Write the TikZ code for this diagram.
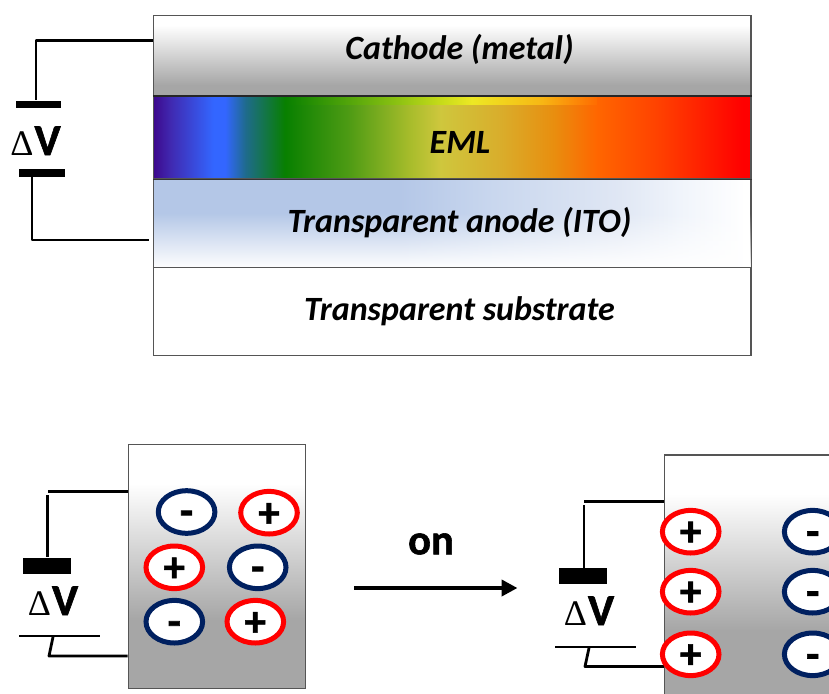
\documentclass[tikz,border=0pt]{standalone}
\usepackage{fontspec}
\setmainfont{Carlito}
\newfontfamily\deltafont{Liberation Serif}
\newfontfamily\heavyfont[FakeBold=1.4]{Carlito Bold}
\usetikzlibrary{fadings,arrows.meta,shapes.geometric}
\definecolor{metalgray}{HTML}{A6A6A6}
\definecolor{edgegray}{HTML}{555555}
\definecolor{holered}{HTML}{FF0000}
\definecolor{elecblue}{HTML}{002060}
\pgfdeclareverticalshading{cathshade}{100bp}{color(0bp)=(metalgray);color(32bp)=(metalgray);color(69bp)=(white);color(100bp)=(white)}
\pgfdeclareverticalshading{devshade}{100bp}{color(0bp)=(metalgray);color(39bp)=(metalgray);color(67bp)=(white);color(100bp)=(white)}
\pgfdeclarehorizontalshading{emlshade}{100bp}{
rgb(0bp)=(0.24,0.03,0.55);rgb(25bp)=(0.24,0.03,0.55);rgb(26.4bp)=(0.25,0.16,0.69);
rgb(30bp)=(0.2,0.4,1);rgb(31bp)=(0.2,0.4,1);rgb(32.7bp)=(0.12,0.42,0.55);
rgb(36bp)=(0.03,0.5,0);rgb(41.4bp)=(0.31,0.61,0.08);rgb(46.5bp)=(0.66,0.74,0.17);
rgb(49bp)=(0.81,0.78,0.24);rgb(54bp)=(0.85,0.68,0.17);rgb(58.4bp)=(0.91,0.56,0.06);
rgb(62.1bp)=(1,0.4,0);rgb(67.4bp)=(1,0.25,0);rgb(74.3bp)=(1,0,0);rgb(100bp)=(1,0,0)}
\pgfdeclarehorizontalshading{anodeshade}{100bp}{
rgb(0bp)=(0.706,0.78,0.906);rgb(45.6bp)=(0.706,0.78,0.906);rgb(53bp)=(0.784,0.84,0.933);
rgb(64bp)=(0.878,0.906,0.957);rgb(69bp)=(0.94,0.957,0.984);rgb(74.5bp)=(1,1,1);rgb(100bp)=(1,1,1)}
\pgfdeclarehorizontalshading{stripshade}{100bp}{
rgb(0bp)=(0.03,0.5,0);rgb(25bp)=(0.03,0.5,0);rgb(43bp)=(0.55,0.76,0.07);rgb(50bp)=(0.78,0.86,0.1);rgb(55bp)=(0.93,0.91,0.14);rgb(66bp)=(0.97,0.72,0.08);rgb(75bp)=(1,0.42,0);rgb(100bp)=(1,0.42,0)}
\tikzfading[name=fadedown, top color=transparent!100, bottom color=transparent!0]
\tikzset{
  layer/.style={draw=edgegray,line width=1.2pt,minimum width=597.5pt,inner sep=0pt},
  label/.style={inner sep=0pt,font=\fontsize{34}{38}\selectfont\bfseries\itshape},
  device/.style={draw=edgegray,line width=1.2pt,minimum width=177pt,minimum height=244pt,inner sep=0pt,shading=devshade},
  wire/.style={line width=2.8pt,line cap=butt,line join=round},
  plate/.style={fill=black,inner sep=0pt},
  charge/.style={ellipse,fill=white,line width=5pt,minimum width=56.6pt,minimum height=42.6pt,inner sep=0pt},
  hole/.style={charge,draw=holered},
  electron/.style={charge,draw=elecblue},
  sign/.style={inner sep=0pt,font=\heavyfont\fontsize{43}{43}\selectfont},
  dv/.style={inner sep=0pt,anchor=base},
}
\newcommand{\dV}[1]{{\deltafont\fontsize{#1}{#1}\selectfont\symbol{"0394}}\kern1pt{\heavyfont\fontsize{44}{44}\selectfont V}}
\begin{document}
\begin{tikzpicture}[x=1pt,y=-1pt]
\useasboundingbox (0,0) rectangle (829,693);
\clip (0,0) rectangle (829,693);
% stack
\node[layer,minimum height=81pt,shading=cathshade] (cath) at (452.25,56) {};
\node[layer,minimum height=82pt,shading=emlshade] (eml) at (452.25,137.5) {};
\node[layer,minimum height=89pt,shading=anodeshade] (anode) at (452.25,223) {};
\fill[white,path fading=fadedown] ([xshift=0.8pt]anode.west |- 0,213) rectangle ([xshift=-0.8pt]anode.south east);
\shade[shading=stripshade] (285,97.2) rectangle (597,104);
\node[layer,minimum height=88pt,fill=white] (sub) at (452.25,311.5) {};
\draw[black!85,line width=1.2pt] (eml.north west) -- (eml.north east);
\draw[black!80,line width=1.2pt] (eml.south west) -- (eml.south east);
\node[label] (tcath) at (459.5,49) {Cathode (metal)};
\node[label] (teml) at (460,142) {EML};
\node[label] (tanode) at (459.5,223) {Transparent anode (ITO)};
\node[label] (tsub) at (459.5,311) {Transparent substrate};
% top source
\node[plate,minimum width=45pt,minimum height=7pt] (ptop) at (38.5,104) {};
\node[plate,minimum width=45.5pt,minimum height=8pt] (pbot) at (42,173) {};
\node[dv] (dv1) at (35.5,155) {\dV{36}};
\coordinate (c1) at (36,40.5);
\coordinate (c2) at (32,240);
\coordinate (c2e) at (149,240);
\draw[wire] (cath.west |- c1) -- (c1) -- (c1 |- ptop.north);
\draw[wire] (c2 |- pbot.south) -- (c2) -- (c2e);
% left device
\node[device] (devL) at (216.75,566.5) {};
\node[plate,minimum width=48pt,minimum height=16pt] (pL) at (47,565.5) {};
\node[dv] (dvL) at (53,615) {\dV{36}};
\coordinate (lw1) at (48,491.5);
\coordinate (lw2) at (47.5,495);
\coordinate (lt1) at (19,636);
\coordinate (lt2) at (100,636);
\coordinate (lb0) at (53,637);
\coordinate (lb1) at (49,656);
\draw[wire] (devL.west |- lw1) -- (lw1);
\draw[wire] (lw2) -- (lw2 |- pL.north);
\draw[wire] (lt1) -- (lt2);
\draw[wire] (lb0) -- (lb1) -- (devL.west |- lb1);
\node[electron] (l1) at (186.6,512) {};
\node[sign] (s1) at (186.6,518) {-};
\node[hole] (l2) at (269,512.7) {};
\node[sign] (s2) at (269,515) {+};
\node[hole] (l3) at (174.3,567.3) {};
\node[sign] (s3) at (174.3,569.5) {+};
\node[electron] (l4) at (257.7,567.3) {};
\node[sign] (s4) at (257.7,574) {-};
\node[electron] (l5) at (174.3,621.7) {};
\node[sign] (s5) at (174.3,628.5) {-};
\node[hole] (l6) at (255.3,621.7) {};
\node[sign] (s6) at (255.3,624) {+};
% arrow
\coordinate (a1) at (354,588);
\coordinate (a2) at (517.5,588);
\draw[line width=4.4pt,-{Triangle[length=16pt,width=16pt]}] (a1) -- (a2);
\node[font=\heavyfont\fontsize{42.5}{42.5}\selectfont] (on) at (431,544) {on};
% right device
\node[device] (devR) at (753,577) {};
\node[plate,minimum width=48pt,minimum height=16pt] (pR) at (583,576) {};
\node[dv] (dvR) at (589,625) {\dV{36}};
\coordinate (rw1) at (584,501.5);
\coordinate (rw2) at (584,505);
\coordinate (rt1) at (555,647);
\coordinate (rt2) at (636,647);
\coordinate (rb0) at (589,648);
\coordinate (rb1) at (585,666.5);
\draw[wire] (devR.west |- rw1) -- (rw1);
\draw[wire] (rw2) -- (rw2 |- pR.north);
\draw[wire] (rt1) -- (rt2);
\draw[wire] (rb0) -- (rb1) -- (devR.west |- rb1);
\foreach \n/\y in {1/531.7,2/591.7,3/654.3}{
  \node[hole] (rh\n) at (690.7,\y) {};
  \node[sign] (rs\n) at (690.7,\y+2) {+};
  \node[electron] (re\n) at (812.7,\y) {};
  \node[sign] (rm\n) at (812.7,\y+7) {-};
}
\end{tikzpicture}
\end{document}
